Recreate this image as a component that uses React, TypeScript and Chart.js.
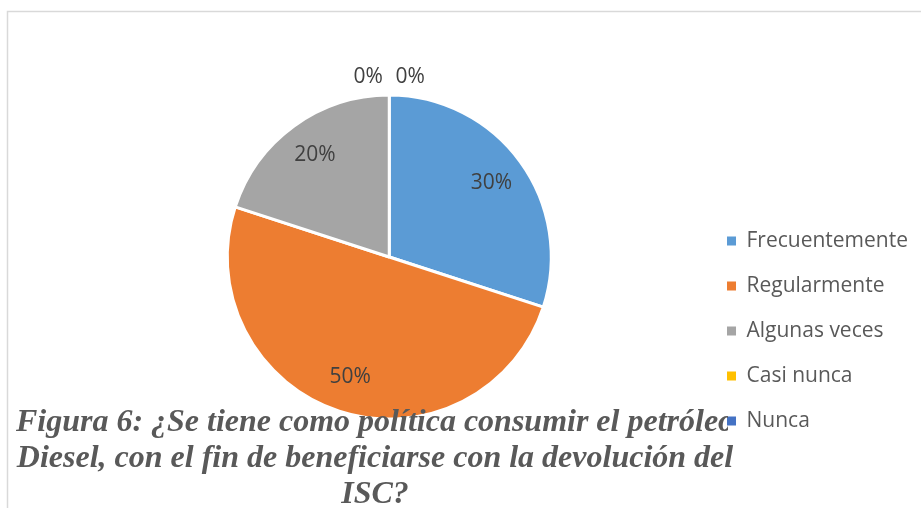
import React, { useEffect, useRef } from "react";
import { Chart, registerables } from "chart.js";

Chart.register(...registerables);

const categories = ["Frecuentemente", "Regularmente", "Algunas veces", "Casi nunca", "Nunca"];
const values = [30, 50, 20, 0, 0];
const valueLabels = ["30%", "50%", "20%", "0%", "0%"];
const colors = ["#5B9BD5", "#ED7D31", "#A5A5A5", "#FFC000", "#4472C4"];
const titleLines = [
  "Figura 6: ¿Se tiene como política consumir el petróleo",
  "Diesel, con el fin de beneficiarse con la devolución del",
  "ISC?",
];

const framePlugin = {
  id: "frame",
  beforeDraw(chart: any) {
    const ctx = chart.ctx;
    ctx.save();
    ctx.strokeStyle = "#d9d9d9";
    ctx.lineWidth = 1.5;
    ctx.beginPath();
    ctx.moveTo(7.5, chart.height);
    ctx.lineTo(7.5, 11.5);
    ctx.lineTo(chart.width, 11.5);
    ctx.stroke();
    ctx.restore();
  },
};

const legendShiftPlugin = {
  id: "legendShift",
  afterLayout(chart: any) {
    const lg = chart.legend;
    if (lg) {
      lg.top += 113;
      lg.bottom += 113;
    }
  },
};

const labelPlugin = {
  id: "sliceLabels",
  afterDatasetsDraw(chart: any) {
    const ctx = chart.ctx;
    const meta = chart.getDatasetMeta(0);
    const zeroIdx = values.map((v, i) => (v === 0 ? i : -1)).filter((i) => i >= 0);
    ctx.save();
    ctx.fillStyle = "#404040";
    ctx.font = '21px "Open Sans"';
    ctx.textAlign = "center";
    ctx.textBaseline = "middle";
    meta.data.forEach((arc: any, i: number) => {
      const p = arc.getProps(["x", "y", "startAngle", "endAngle", "outerRadius"], true);
      const mid = (p.startAngle + p.endAngle) / 2;
      let x: number, y: number;
      if (values[i] > 0) {
        const r = p.outerRadius * 0.78;
        x = p.x + Math.cos(mid) * r;
        y = p.y + Math.sin(mid) * r;
      } else {
        const k = zeroIdx.indexOf(i);
        const off = (k - (zeroIdx.length - 1) / 2) * 42;
        const r = p.outerRadius + 18;
        x = p.x + Math.cos(mid) * r + off;
        y = p.y + Math.sin(mid) * r;
      }
      ctx.fillText(valueLabels[i], x, y);
    });
    ctx.restore();
  },
};

const titlePlugin = {
  id: "figTitle",
  afterDraw(chart: any) {
    const ctx = chart.ctx;
    ctx.save();
    ctx.fillStyle = "#595959";
    ctx.font = 'italic bold 32px "Liberation Serif"';
    ctx.textAlign = "center";
    ctx.textBaseline = "alphabetic";
    const cx = 375;
    titleLines.forEach((t, i) => {
      ctx.save();
      if (i === 0) {
        ctx.beginPath();
        ctx.rect(0, 0, 728, chart.height);
        ctx.clip();
      }
      ctx.fillText(t, cx, 431 + i * 36);
      ctx.restore();
    });
    ctx.restore();
  },
};

export default function App() {
  const ref = useRef<HTMLCanvasElement>(null);
  useEffect(() => {
    if (!ref.current) return;
    const baseGen = (Chart as any).overrides.pie.plugins.legend.labels.generateLabels;
    const chart = new Chart(ref.current, {
      type: "pie",
      data: {
        labels: categories,
        datasets: [
          {
            data: values,
            backgroundColor: colors,
            borderColor: "#ffffff",
            borderWidth: 3,
          },
        ],
      },
      options: {
        responsive: false,
        animation: false,
        layout: { padding: { top: 93.5, bottom: 87.5, left: 75.5, right: 3 } },
        plugins: {
          tooltip: { enabled: false },
          title: { display: false },
          legend: {
            position: "right",
            align: "start",
            labels: {
              boxWidth: 9,
              boxHeight: 9,
              padding: 24,
              color: "#595959",
              font: { family: '"Open Sans"', size: 21 },
              generateLabels: (c: any) =>
                baseGen(c).map((it: any) => ({ ...it, lineWidth: 0, strokeStyle: it.fillStyle })),
            },
          },
        },
      },
      plugins: [framePlugin, legendShiftPlugin, labelPlugin, titlePlugin],
    });
    return () => chart.destroy();
  }, []);
  return (
    <div style={{ position: "fixed", left: 0, top: 0, width: 921, height: 508, background: "#fff" }}>
      <canvas ref={ref} width={921} height={508} style={{ display: "block" }} />
    </div>
  );
}
